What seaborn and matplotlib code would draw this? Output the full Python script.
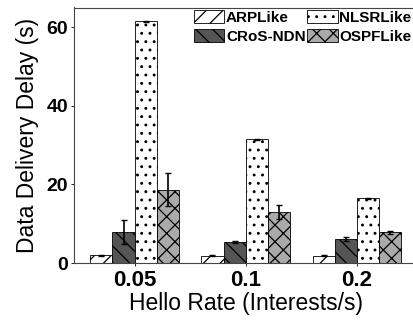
import matplotlib
matplotlib.use("Agg")
import matplotlib.pyplot as plt
import seaborn as sns
import pandas as pd
import numpy as np

rates = ["0.05", "0.1", "0.2"]
protocols = ["ARPLike", "CRoS-NDN", "NLSRLike", "OSPFLike"]
arp_mean = [2.0, 1.9, 1.9]
arp_err = [0.1, 0.1, 0.1]
cros_mean = [7.9, 5.3, 6.2]
cros_err = [3.0, 0.2, 0.5]
nlsr_mean = [61.5, 31.5, 16.5]
nlsr_err = [0.1, 0.1, 0.1]
ospf_mean = [18.6, 13.0, 7.8]
ospf_err = [4.2, 1.7, 0.3]

colors = ["white", "#555555", "white", "#aaaaaa"]
hatches = ["//", "\\\\", "..", "xx"]

means = [arp_mean, cros_mean, nlsr_mean, ospf_mean]
errs = [arp_err, cros_err, nlsr_err, ospf_err]
rows = []
for p, m, e in zip(protocols, means, errs):
    for r, mv, ev in zip(rates, m, e):
        rows.append({"rate": r, "protocol": p, "delay": mv, "err": ev})
df = pd.DataFrame(rows)

sns.set_style("ticks")
plt.rcParams["font.family"] = ["Liberation Sans", "DejaVu Sans"]
plt.rcParams["hatch.linewidth"] = 0.9
plt.rcParams["text.color"] = "black"
plt.rcParams["axes.labelcolor"] = "black"
plt.rcParams["xtick.color"] = "black"
plt.rcParams["ytick.color"] = "black"

fig = plt.figure(figsize=(4.14, 3.2), dpi=100)
ax = fig.add_axes([73.5 / 414, 1 - 263 / 320, (414 - 73.5) / 414 + 0.01, (263 - 7.5) / 320])

sns.barplot(data=df, x="rate", y="delay", hue="protocol", order=rates,
            hue_order=protocols, palette=colors, errorbar=None, width=0.8,
            edgecolor="black", linewidth=0.6, ax=ax, legend=False)

for cont, h, e in zip(ax.containers, hatches, errs):
    for patch, ev in zip(cont.patches, e):
        patch.set_hatch(h)
        cx = patch.get_x() + patch.get_width() / 2
        ax.errorbar(cx, patch.get_height(), yerr=ev, color="black",
                    capsize=2, elinewidth=1.2, capthick=1, fmt="none")

ax.set_ylim(0, 65)
ax.set_xlim(-0.55, 2.55)
ax.set_yticks([0, 20, 40, 60])
ax.tick_params(axis="y", labelsize=14, length=2, width=0.6, pad=2)
ax.tick_params(axis="x", labelsize=16, length=2, width=0.6, pad=3)
for lab in ax.get_yticklabels() + ax.get_xticklabels():
    lab.set_fontweight("bold")
ax.set_xlabel("Hello Rate (Interests/s)", fontsize=16.5, labelpad=1)
ax.set_ylabel("Data Delivery Delay (s)", fontsize=16.5, labelpad=5)
for s in ["left", "bottom", "top"]:
    ax.spines[s].set_color("#444444")
    ax.spines[s].set_linewidth(0.8)
ax.spines["right"].set_visible(False)

leg = ax.legend(ax.containers, protocols, ncol=2, loc="upper right",
                bbox_to_anchor=(1.007, 1.025), frameon=False,
                prop={"weight": "bold", "size": 11}, handlelength=2.0,
                handleheight=0.9, columnspacing=0.1, handletextpad=0.1,
                labelspacing=0.3, borderaxespad=0.2)

fig.savefig("out.png", dpi=100)
